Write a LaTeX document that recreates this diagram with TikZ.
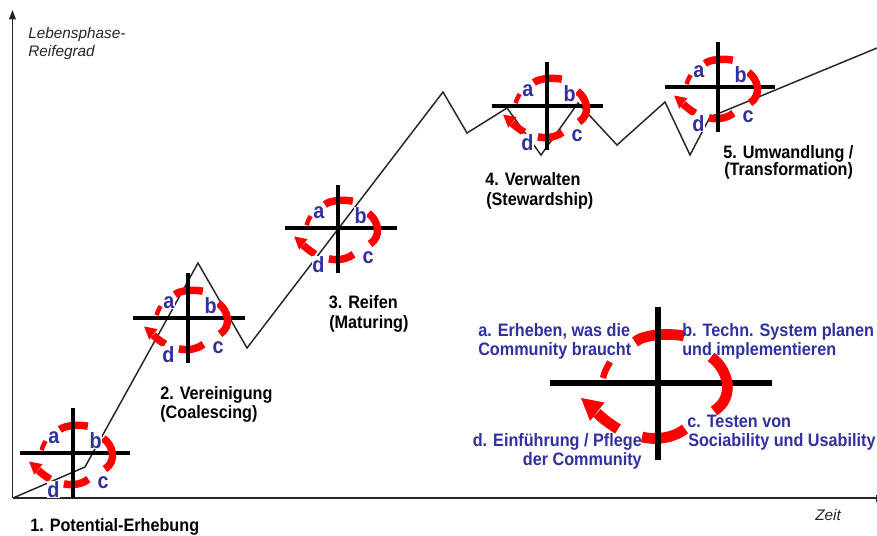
\documentclass[tikz,border=0pt]{standalone}
\usepackage{fontspec}
\setmainfont{Liberation Sans}
\newfontfamily\labfont[FakeStretch=0.9]{Liberation Sans}
\usetikzlibrary{arrows.meta}
\definecolor{legblue}{RGB}{48,48,160}
\definecolor{redc}{RGB}{255,0,0}

\newcommand\redcyc[4]{%
  \begin{scope}[shift={(#1,#2)},scale=#3,redc,line width=#4]
    \draw (-23,-41) .. controls (-14,-49) and (12,-50) .. (26,-47);
    \draw (53,-26) .. controls (70,-14) and (78,14) .. (56,28);
    \draw (-16,54) .. controls (-4,57) and (14,56) .. (27,46);
    \draw[line width=0.6*#4] (-55,-5) .. controls (-53,-12) .. (-48,-21);
    \draw (-40,46) .. controls (-48,41) and (-55,36) .. (-61,30);
    \fill (-77,15) -- (-53.5,19.5) -- (-68,38) -- cycle;
  \end{scope}}

\newcommand\phcross[7]{%
  \coordinate (#1) at (#2,#3);
  \draw[bar] (#4,#3) -- (#5,#3);
  \redcyc{#2}{#3}{0.57}{5.6pt}
  \draw[bar] (#2,#6) -- (#2,#7);
  \path (#1) ++(-25.5,-9.7) node[letter] (#1a) {a};
  \path (#1) ++(15.8,-4.8) node[letter] (#1b) {b};
  \path (#1) ++(23.8,35.2) node[letter] (#1c) {c};
  \path (#1) ++(-26.4,44.3) node[letter] (#1d) {d};
}

\begin{document}
\begin{tikzpicture}[x=0.75pt,y=-0.75pt,
  bar/.style={line width=3.2pt,black,line cap=butt},
  curve/.style={line width=1.1pt,black!85,line join=miter},
  axis/.style={line width=1pt,black!85},
  letter/.style={font=\labfont\fontsize{16.5}{16}\selectfont\bfseries,text=legblue,fill=white,inner sep=0.4pt,anchor=base west},
  phase/.style={font=\labfont\fontsize{13.5}{16}\selectfont\bfseries,anchor=base west,inner sep=0},
  legtext/.style={phase,text=legblue},
  axtext/.style={font=\fontsize{11.5}{14}\selectfont\itshape,anchor=base west,inner sep=0,text=black!85}]
\fill[white] (0,0) rectangle (877,535);
\useasboundingbox (0,0) rectangle (877,535);

% axes
\draw[axis,-{Triangle[length=7pt,width=5pt]}] (12.5,498) -- (12.5,10);
\draw[axis] (12.5,498) -- (876,498);
\draw[axis,line width=0.6pt] (876,495) -- (876,502);
\node[axtext] (ylab1) at (28,38.3) {Lebensphase-};
\node[axtext] (ylab2) at (28,56.7) {Reifegrad};
\node[axtext] (xlab) at (815,520.7) {Zeit};

% maturity curve
\draw[curve] (13,498) -- (85,467) -- (198,263) -- (247,348) -- (443,92) -- (467,133)
  -- (507,108) -- (541,155) -- (578,103) -- (617,145) -- (665,102) -- (690,155)
  -- (710,117) -- (877,48);

% phase crosses
\phcross{c1}{73}{453}{20}{130}{408}{498}
\phcross{c2}{188}{318}{133}{245}{273}{363}
\phcross{c3}{338}{228}{285}{397}{185}{273}
\phcross{c4}{547}{106}{492}{603}{62}{150}
\phcross{c5}{718}{87}{665}{775}{42}{132}

% phase labels
\node[phase] (p1) at (30,531.5) {1. Potential-Erhebung};
\node[phase] (p2a) at (160,399) {2. Vereinigung};
\node[phase] (p2b) at (160,418.5) {(Coalescing)};
\node[phase] (p3a) at (328.5,308.3) {3. Reifen};
\node[phase] (p3b) at (329,328.3) {(Maturing)};
\node[phase] (p4a) at (485,185) {4. Verwalten};
\node[phase] (p4b) at (486,205) {(Stewardship)};
\node[phase] (p5a) at (723,158.3) {5. Umwandlung /};
\node[phase] (p5b) at (724,175) {(Transformation)};

% legend cross
\coordinate (L) at (658,383);
\draw[bar,line width=3.8pt] (550,383) -- (772,383);
\redcyc{658}{383}{1}{8pt}
\draw[bar,line width=3.8pt] (658,307) -- (658,460);
\node[legtext] (la1) at (478,336.7) {a. Erheben, was die};
\node[legtext] (la2) at (478,355) {Community braucht};
\node[legtext] (lb1) at (682,336.7) {b. Techn. System planen};
\node[legtext] (lb2) at (682,355) {und implementieren};
\node[legtext] (lc1) at (687,427.3) {c. Testen von};
\node[legtext] (lc2) at (688,446.7) {Sociability und Usability};
\node[legtext,anchor=base east] (ld1) at (642,446.7) {d. Einführung / Pflege};
\node[legtext,anchor=base east] (ld2) at (642,465.7) {der Community};
\end{tikzpicture}
\end{document}
